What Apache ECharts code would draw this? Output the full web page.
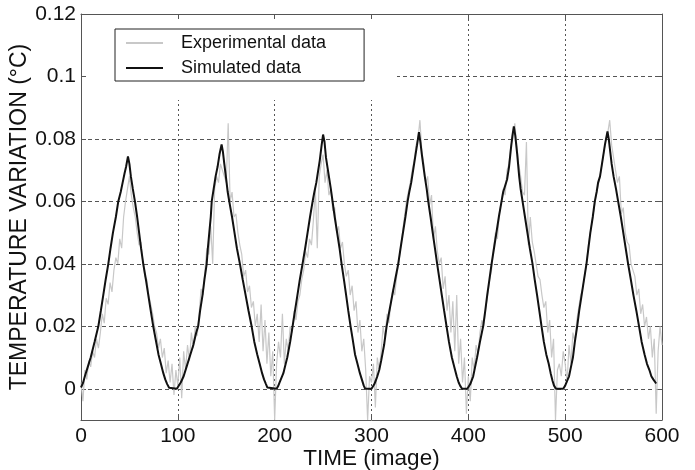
<!DOCTYPE html>
<html><head><meta charset="utf-8">
<script src="https://cdn.jsdelivr.net/npm/echarts@6/dist/echarts.min.js"></script>
<style>html,body{margin:0;padding:0;background:#fff}#c{width:695px;height:470px}</style>
</head><body><div id="c"></div>
<script>
// ---- data ----
const legendNames = ['Experimental data', 'Simulated data'];
const xTicks = [0, 100, 200, 300, 400, 500, 600];
const yTicks = [0, 0.02, 0.04, 0.06, 0.08, 0.1, 0.12];

const simTime = [
  0,2,4,7,10,14,17.9,20.5,23,25.5,28.2,30.5,33,36,38.5,41,43,45,46.5,48.5,50,51.5,53.5,55.7,58,60,62,64.3,67,69.5,72,74.6,77,80,82.5,85,87,89,91,92,99,
  101,103,106,109,112,116,119,121,123,125.5,127.5,129.8,131,132.5,134,135,137,139,141,143,145.2,146.5,148,150,151.5,153.1,156,158.5,161,164.1,167,170,173,176.2,179,182,184.5,187,189,191,192.5,193.5,202,
  203.5,205,207,209,211,213,216,218.5,221,223.5,226,228.8,231.5,234,236.5,239.2,241,243,245,246.5,248.5,250,251.5,253,256,258,259.8,262,264.5,267,269.1,271.5,273.8,276,278.4,280.5,283,285.5,288,290,292,293.5,300,
  301.5,303,306,308,310,313,315.6,318.5,321.5,324.5,327.6,330,332.5,335,337.3,339,341,343,345,347,349,350.5,352,355,357,358.6,361,363.2,365.5,367.8,370.2,372.6,375,377.5,380,383,385.5,388,390,391.5,393.5,399,
  400.5,402,405,407,409,412,415.3,417.5,419.5,421.8,424,426.5,429,431.5,434.3,436,438,440,442,444,445.5,447,448.5,450.5,452.5,454,456,458.5,461,463.5,466.3,468.5,471,473.3,475.6,478,480.5,483,485,487,488.5,490.5,498,
  500,502,504,506,508,510,512.4,514.5,517,519.5,522,524,526,528.5,530.6,532.5,534,536,537.5,539.5,541,543.7,545,546.5,548,550,552.5,554.7,557.5,560,562.5,565,567.8,570.5,573.5,576.3,579,582,584.5,587,589,591,594
];
const simTemp = [
  0.0004,0.0018,0.004,0.007,0.010,0.015,0.020,0.025,0.030,0.035,0.040,0.045,0.050,0.055,0.060,0.063,0.066,0.069,0.071,0.0744,0.072,0.068,0.064,0.060,0.055,0.050,0.045,0.040,0.035,0.030,0.025,0.020,0.016,0.011,0.008,0.005,0.003,0.0015,0.0003,0,0,
  0.0006,0.002,0.004,0.007,0.010,0.014,0.018,0.020,0.025,0.030,0.035,0.040,0.045,0.050,0.055,0.060,0.064,0.068,0.071,0.075,0.0782,0.076,0.072,0.067,0.063,0.060,0.055,0.050,0.045,0.040,0.035,0.030,0.025,0.020,0.015,0.011,0.008,0.005,0.003,0.0015,0.0004,0,0,
  0.0008,0.002,0.0035,0.005,0.0075,0.010,0.015,0.020,0.025,0.030,0.035,0.040,0.045,0.050,0.055,0.060,0.063,0.066,0.070,0.073,0.078,0.0814,0.079,0.074,0.068,0.064,0.060,0.055,0.050,0.045,0.040,0.035,0.030,0.025,0.020,0.016,0.011,0.008,0.005,0.003,0.001,0,0,
  0.0005,0.0015,0.004,0.006,0.009,0.014,0.020,0.025,0.030,0.035,0.040,0.045,0.050,0.055,0.060,0.063,0.066,0.070,0.074,0.078,0.0822,0.079,0.075,0.068,0.064,0.060,0.055,0.050,0.045,0.040,0.035,0.030,0.025,0.020,0.015,0.010,0.007,0.004,0.002,0.001,0,0,
  0.0005,0.0015,0.004,0.007,0.010,0.015,0.020,0.025,0.030,0.035,0.040,0.045,0.050,0.055,0.060,0.063,0.065,0.067,0.071,0.077,0.081,0.084,0.081,0.075,0.068,0.064,0.060,0.055,0.050,0.045,0.040,0.035,0.030,0.025,0.020,0.015,0.011,0.008,0.005,0.0025,0.001,0,0,
  0.001,0.0025,0.004,0.007,0.010,0.015,0.020,0.025,0.030,0.035,0.040,0.045,0.050,0.055,0.060,0.063,0.066,0.068,0.071,0.075,0.078,0.0824,0.080,0.076,0.072,0.068,0.064,0.060,0.055,0.050,0.045,0.040,0.035,0.030,0.025,0.020,0.015,0.011,0.008,0.006,0.004,0.003,0.0017
];

// experimental data: one value per 2 images, starting at image 0
const expStart = 0, expStep = 2;
const expTemp = [
  0.002,-0.004,0.006,0.003,0.009,0.007,0.012,0.010,0.016,0.013,
  0.018,0.024,0.021,0.029,0.027,0.034,0.031,0.038,0.042,0.040,
  0.048,0.045,0.055,0.060,0.064,0.068,0.062,0.058,0.055,0.050,
  0.046,0.047,0.040,0.036,0.035,0.030,0.027,0.024,0.020,0.018,
  0.013,0.016,0.010,0.013,0.005,0.009,0.002,0.008,-0.002,0.006,
  0.001,0.010,-0.003,0.012,0.006,0.014,0.009,0.018,0.013,0.020,
  0.017,0.024,0.032,0.030,0.038,0.045,0.043,0.052,0.040,0.064,
  0.068,0.066,0.072,0.070,0.070,0.066,0.085,0.060,0.063,0.055,
  0.056,0.050,0.046,0.043,0.036,0.038,0.031,0.033,0.026,0.028,
  0.020,0.024,0.015,0.027,0.012,0.022,0.008,0.018,0.004,0.012,
  -0.010,0.008,0.015,0.010,0.024,0.008,0.016,0.012,0.020,0.018,
  0.025,0.022,0.028,0.030,0.035,0.038,0.044,0.042,0.048,0.046,
  0.054,0.064,0.045,0.068,0.072,0.075,0.066,0.070,0.062,0.064,
  0.057,0.058,0.050,0.052,0.045,0.047,0.040,0.036,0.038,0.030,
  0.033,0.025,0.028,0.018,0.022,0.012,0.016,0.006,-0.010,0.004,
  0.002,0.008,-0.006,0.010,0.006,0.012,0.020,0.016,0.024,0.021,
  0.028,0.032,0.030,0.036,0.040,0.045,0.050,0.055,0.060,0.063,
  0.066,0.070,0.073,0.078,0.080,0.086,0.076,0.072,0.066,0.068,
  0.059,0.062,0.048,0.052,0.044,0.040,0.042,0.032,0.036,0.025,
  0.030,0.018,0.028,0.012,0.030,0.008,0.016,0.002,0.010,-0.008,
  0.004,-0.004,0.010,0.006,0.014,0.011,0.018,0.022,0.020,0.026,
  0.030,0.035,0.038,0.045,0.050,0.048,0.056,0.060,0.064,0.062,
  0.070,0.072,0.078,0.080,0.085,0.078,0.072,0.068,0.063,0.062,
  0.079,0.046,0.055,0.047,0.044,0.040,0.036,0.035,0.030,0.026,
  0.028,0.018,0.022,0.010,0.016,-0.010,0.006,0.008,0.004,0.012,
  0.008,0.002,0.014,0.008,0.018,0.015,0.022,0.026,0.030,0.032,
  0.036,0.040,0.046,0.050,0.054,0.058,0.062,0.065,0.068,0.072,
  0.076,0.080,0.082,0.086,0.078,0.074,0.070,0.066,0.068,0.056,
  0.058,0.050,0.047,0.046,0.040,0.038,0.036,0.030,0.032,0.024,
  0.027,0.020,0.023,0.016,0.020,0.010,0.016,-0.008,0.012,0.020,
  0.014
];

// ---- chart ----
const FONT = '"Liberation Sans", Arial, Helvetica, sans-serif';
const FRAME = '#555';
const simData = simTime.map((t, i) => [t, simTemp[i]]);
const expData = expTemp.map((v, i) => [expStart + i * expStep, v]);

const chart = echarts.init(document.getElementById('c'), null, {renderer: 'canvas'});
chart.setOption({
  animation: false,
  backgroundColor: '#fff',
  textStyle: {fontFamily: FONT},
  grid: {left: 81, right: 33, top: 14, bottom: 50, containLabel: false, outerBoundsMode: 'none'},
  legend: {
    data: legendNames,
    orient: 'vertical',
    left: 115, top: 29,
    backgroundColor: '#fff',
    borderColor: '#222', borderWidth: 1, borderRadius: 0,
    padding: [5, 38, 4, 10],
    itemGap: 7, itemWidth: 37, itemHeight: 18,
    itemStyle: {opacity: 0},
    textStyle: {fontFamily: FONT, fontSize: 18, color: '#111', padding: [0, 0, 0, 13]},
    z: 6
  },
  graphic: [{
    type: 'rect', silent: true, z: 5,
    shape: {x: 86, y: 19, width: 311, height: 81},
    style: {fill: '#fff'}
  }],
  xAxis: [{
    type: 'value', min: xTicks[0], max: xTicks[xTicks.length - 1], interval: 100,
    name: 'TIME (image)', nameLocation: 'middle', nameGap: 27, nameMoveOverlap: false,
    nameTextStyle: {fontFamily: FONT, fontSize: 22.5, color: '#111'},
    axisLine: {show: true, onZero: false, lineStyle: {color: FRAME, width: 1}},
    axisTick: {show: true, inside: true, length: 5, lineStyle: {color: FRAME}},
    axisLabel: {fontFamily: FONT, fontSize: 21, color: '#111', margin: 6},
    splitLine: {show: true, lineStyle: {color: '#555', type: [2, 3], width: 1}}
  }, {
    type: 'value', position: 'top', min: xTicks[0], max: xTicks[xTicks.length - 1], interval: 100,
    axisLine: {show: true, onZero: false, lineStyle: {color: FRAME, width: 1}},
    axisTick: {show: true, inside: true, length: 5, lineStyle: {color: FRAME}},
    axisLabel: {show: false}, splitLine: {show: false}
  }],
  yAxis: [{
    type: 'value', min: -0.01, max: 0.12,
    name: 'TEMPERATURE VARIATION (°C)', nameLocation: 'middle', nameGap: 50, nameRotate: 90, nameMoveOverlap: false,
    nameTextStyle: {fontFamily: FONT, fontSize: 23, color: '#111'},
    axisLine: {show: true, onZero: false, lineStyle: {color: FRAME, width: 1}},
    axisTick: {show: true, inside: true, length: 5, customValues: yTicks, lineStyle: {color: FRAME}},
    axisLabel: {fontFamily: FONT, fontSize: 21, color: '#111', margin: 5, customValues: yTicks},
    splitLine: {show: true, lineStyle: {color: '#555', type: [4, 3], width: 1}}
  }, {
    type: 'value', position: 'right', min: -0.01, max: 0.12,
    axisLine: {show: true, onZero: false, lineStyle: {color: FRAME, width: 1}},
    axisTick: {show: true, inside: true, length: 5, customValues: yTicks, lineStyle: {color: FRAME}},
    axisLabel: {show: false}, splitLine: {show: false}
  }],
  series: [{
    name: legendNames[0], type: 'line', xAxisIndex: 0, yAxisIndex: 0,
    data: expData, symbol: 'none', showSymbol: false,
    lineStyle: {color: '#c8c8c8', width: 1.2}, itemStyle: {color: '#c8c8c8'}, z: 2
  }, {
    name: legendNames[1], type: 'line', xAxisIndex: 0, yAxisIndex: 0,
    data: simData, symbol: 'none', showSymbol: false,
    lineStyle: {color: '#111', width: 2}, itemStyle: {color: '#111'}, z: 3
  }]
});
</script>
</body></html>
